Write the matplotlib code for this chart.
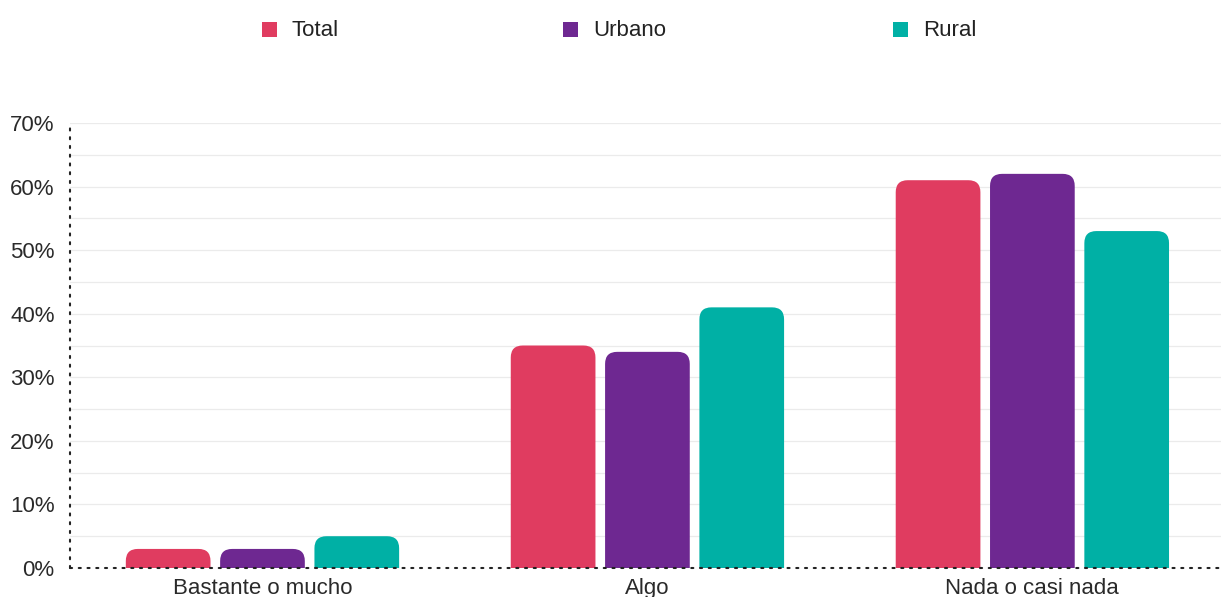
import matplotlib.pyplot as plt
from matplotlib.patches import FancyBboxPatch, Rectangle
import numpy as np

plt.rcParams['font.family'] = ['Liberation Sans', 'DejaVu Sans']

categorias = ['Bastante o mucho', 'Algo', 'Nada o casi nada']
series = ['Total', 'Urbano', 'Rural']
total = [3, 35, 61]
urbano = [3, 34, 62]
rural = [5, 41, 53]
colores = ['#E03C60', '#6E2891', '#00B0A5']

W, H = 1221, 597
fig = plt.figure(figsize=(W / 100, H / 100), dpi=100)
ax = fig.add_axes([70 / W, 1 - 568 / H, 1 - 70 / W, (568 - 123) / H])

x = np.arange(len(categorias))
ancho = 0.22
paso = 0.245
ax.set_xlim(-0.5, 2.49)
ax.set_ylim(0, 70)

# radius of the rounded tops, in pixels -> data units
r_px = 12
px_x = (ax.get_position().width * W) / 2.99
px_y = (ax.get_position().height * H) / 70.0
r_x = r_px / px_x
r_y = r_px / px_y

for i, (vals, col) in enumerate(zip([total, urbano, rural], colores)):
    bars = ax.bar(x + (i - 1) * paso, vals, ancho, color=col)
    for b in bars:
        bx, by, bw, bh = b.get_x(), b.get_y(), b.get_width(), b.get_height()
        b.remove()
        p = FancyBboxPatch((bx, by - r_y), bw, bh + r_y,
                           boxstyle=f"round,pad=0,rounding_size={r_x}",
                           mutation_aspect=r_y / r_x,
                           facecolor=col, edgecolor='none', zorder=2)
        ax.add_patch(p)

ax.set_yticks(np.arange(0, 71, 10))
ax.set_yticklabels([f'{v}%' for v in range(0, 71, 10)])
for yv in np.arange(5, 71, 5):
    ax.axhline(yv, color='#ebebeb', lw=0.9, zorder=0)

ax.set_xticks(x)
ax.set_xticklabels(categorias)
ax.tick_params(axis='both', length=0, labelsize=16, colors='#2a2a2a')
ax.tick_params(axis='y', pad=11)
ax.tick_params(axis='x', pad=7)

for s in ['top', 'right']:
    ax.spines[s].set_visible(False)
for s in ['left', 'bottom']:
    ax.spines[s].set_linestyle((0, (1, 3.2)))
    ax.spines[s].set_linewidth(1.5)
    ax.spines[s].set_color('#222222')
    ax.spines[s].set_capstyle('round')
    ax.spines[s].set_zorder(5)

# legend along the top
leyenda_x = [262, 563, 893]
for nombre, col, lx in zip(series, colores, leyenda_x):
    fig.add_artist(Rectangle((lx / W, 1 - 37 / H), 15 / W, 15 / H,
                             facecolor=col, edgecolor='none',
                             transform=fig.transFigure))
    fig.text((lx + 30) / W, 1 - 30.5 / H, nombre, fontsize=16,
             color='#222222', va='center', ha='left')

fig.savefig('out.png', dpi=100)
